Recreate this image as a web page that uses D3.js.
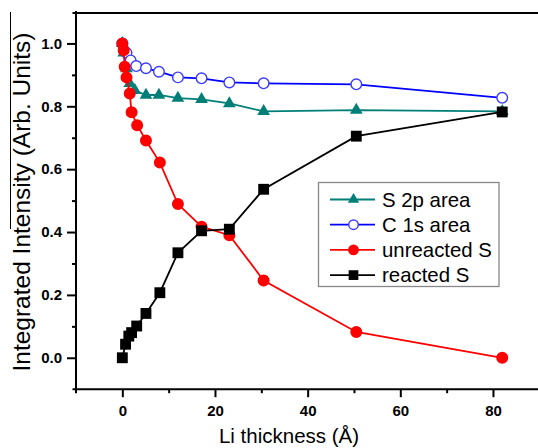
<!DOCTYPE html>
<html>
<head>
<meta charset="utf-8">
<script src="https://cdn.jsdelivr.net/npm/d3@7"></script>
<style>
  html, body { margin: 0; padding: 0; background: #fff; }
  svg { display: block; }
  text { font-family: "Liberation Sans", Arial, sans-serif; }
</style>
</head>
<body>
<svg id="chart" width="538" height="448"></svg>
<script>
// Li thickness (Å) and normalised integrated intensities per component
const s2pX = [0, 0.3, 0.9, 1.6, 2.7, 5.1, 7.9, 12.0, 17.1, 23.1, 30.5, 50.5, 82];
const s2pY = [1.00, 0.970, 0.920, 0.873, 0.851, 0.836, 0.836, 0.826, 0.822, 0.809, 0.784, 0.788, 0.784];

const c1sX = [0, 0.9, 1.8, 3.0, 5.1, 7.9, 12.0, 17.1, 23.1, 30.5, 50.5, 82];
const c1sY = [1.00, 0.970, 0.946, 0.928, 0.921, 0.910, 0.892, 0.889, 0.876, 0.873, 0.870, 0.827];

const unreactedX = [0, 0.3, 0.5, 0.9, 1.6, 2.0, 3.2, 5.1, 8.1, 12.0, 17.1, 23.1, 30.5, 50.5, 82];
const unreactedY = [1.00, 0.978, 0.926, 0.892, 0.841, 0.781, 0.740, 0.691, 0.621, 0.489, 0.417, 0.390, 0.246, 0.082, 0.000];

const reactedX = [0, 0.7, 1.4, 2.0, 3.1, 5.1, 8.1, 12.0, 17.1, 23.1, 30.5, 50.5, 82];
const reactedY = [0.000, 0.043, 0.069, 0.080, 0.101, 0.141, 0.207, 0.334, 0.404, 0.409, 0.536, 0.705, 0.782];

const seriesNames = ["S 2p area", "C 1s area", "unreacted S", "reacted S"];

const xMajorTicks = [0, 20, 40, 60, 80];
const xMinorTicks = [10, 30, 50, 70];
const yMajorTicks = [0.0, 0.2, 0.4, 0.6, 0.8, 1.0];
const yMinorTicks = [0.1, 0.3, 0.5, 0.7, 0.9];

const xTitle = "Li thickness (Å)";
const yTitle = "Integrated Intensity (Arb. Units)";

const svg = d3.select("#chart");

const x = d3.scaleLinear().domain([-10, 90]).range([76, 539.3]);
const y = d3.scaleLinear().domain([-0.1, 1.1]).range([389.2, 12.0]);

// series definitions (drawing order: teal, blue, red, black)
const series = [
  { name: seriesNames[0], xs: s2pX, ys: s2pY, color: "#007f78", symbol: d3.symbolTriangle, size: 70, fill: "#007f78", stroke: "none" },
  { name: seriesNames[1], xs: c1sX, ys: c1sY, color: "#0000ff", symbol: d3.symbolCircle, size: 88, fill: "#ffffff", stroke: "#3b3bff" },
  { name: seriesNames[2], xs: unreactedX, ys: unreactedY, color: "#ff0000", symbol: d3.symbolCircle, size: 113, fill: "#ff0000", stroke: "none" },
  { name: seriesNames[3], xs: reactedX, ys: reactedY, color: "#000000", symbol: d3.symbolSquare, size: 118, fill: "#000000", stroke: "none" }
];

// axes: ticks only, frame drawn separately
const gx = svg.append("g").attr("transform", `translate(0,${y(-0.1)})`);
gx.call(d3.axisBottom(x).tickValues(xMajorTicks).tickSize(8).tickPadding(8).tickFormat(d3.format("d")));
const gxm = svg.append("g").attr("transform", `translate(0,${y(-0.1)})`);
gxm.call(d3.axisBottom(x).tickValues(xMinorTicks).tickSize(4).tickFormat(""));

const gy = svg.append("g").attr("transform", `translate(${x(-10)},0)`);
gy.call(d3.axisLeft(y).tickValues(yMajorTicks).tickSize(9).tickPadding(5).tickFormat(d3.format(".1f")));
const gym = svg.append("g").attr("transform", `translate(${x(-10)},0)`);
gym.call(d3.axisLeft(y).tickValues(yMinorTicks).tickSize(4).tickFormat(""));

[gx, gxm, gy, gym].forEach(g => {
  g.select(".domain").remove();
  g.selectAll(".tick line").attr("stroke", "#000").attr("stroke-width", 2);
  g.selectAll(".tick text")
    .attr("fill", "#000")
    .style("font-family", '"Liberation Sans", Arial, sans-serif')
    .style("font-size", "15px")
    .style("font-weight", "bold");
});

// frame lines with small overhang at the corners
const frame = svg.append("g").attr("stroke", "#000").attr("stroke-width", 2).attr("fill", "none");
frame.append("line").attr("x1", x(-10)).attr("x2", x(-10)).attr("y1", y(1.1) - 1).attr("y2", y(-0.1) + 4);
frame.append("line").attr("x1", x(-10) - 3.5).attr("x2", x(90) + 2).attr("y1", y(-0.1)).attr("y2", y(-0.1));
frame.append("line").attr("x1", x(-10) - 3.5).attr("x2", x(90) + 2).attr("y1", y(1.1) + 1).attr("y2", y(1.1) + 1);

// series lines and markers
series.forEach(s => {
  const pts = s.xs.map((v, i) => [v, s.ys[i]]);
  svg.append("path")
    .datum(pts)
    .attr("fill", "none")
    .attr("stroke", s.color)
    .attr("stroke-width", 1.8)
    .attr("d", d3.line().x(d => x(d[0])).y(d => y(d[1])));
  svg.append("g").selectAll("path")
    .data(pts)
    .join("path")
    .attr("transform", d => `translate(${x(d[0])},${y(d[1])})`)
    .attr("d", d3.symbol().type(s.symbol).size(s.size))
    .attr("fill", s.fill)
    .attr("stroke", s.stroke)
    .attr("stroke-width", 1.4);
});

// legend
const legend = svg.append("g");
legend.append("rect")
  .attr("x", 318.5).attr("y", 182.5).attr("width", 180.5).attr("height", 104)
  .attr("fill", "#fff").attr("stroke", "#888").attr("stroke-width", 1.3);
series.forEach((s, i) => {
  const cy = 199.5 + i * 25.2;
  legend.append("line")
    .attr("x1", 330).attr("x2", 375).attr("y1", cy).attr("y2", cy)
    .attr("stroke", s.color).attr("stroke-width", 1.8);
  legend.append("path")
    .attr("transform", `translate(353.5,${cy})`)
    .attr("d", d3.symbol().type(s.symbol).size(s.size * 0.8))
    .attr("fill", s.fill).attr("stroke", s.stroke).attr("stroke-width", 1.4);
  legend.append("text")
    .attr("x", 382).attr("y", cy + 7.3)
    .style("font-size", "20.4px")
    .attr("fill", "#000")
    .text(s.name);
});

// axis titles
svg.append("text")
  .attr("x", 289).attr("y", 443)
  .attr("text-anchor", "middle")
  .style("font-size", "20.5px")
  .attr("fill", "#000")
  .text(xTitle);

svg.append("text")
  .attr("transform", "translate(30,202) rotate(-90)")
  .attr("text-anchor", "middle")
  .style("font-size", "24.5px")
  .attr("fill", "#000")
  .text(yTitle);

// thin rule at the far left edge
svg.append("line")
  .attr("x1", 10.5).attr("x2", 10.5).attr("y1", 12).attr("y2", 229)
  .attr("stroke", "#000").attr("stroke-width", 1);
</script>
</body>
</html>
